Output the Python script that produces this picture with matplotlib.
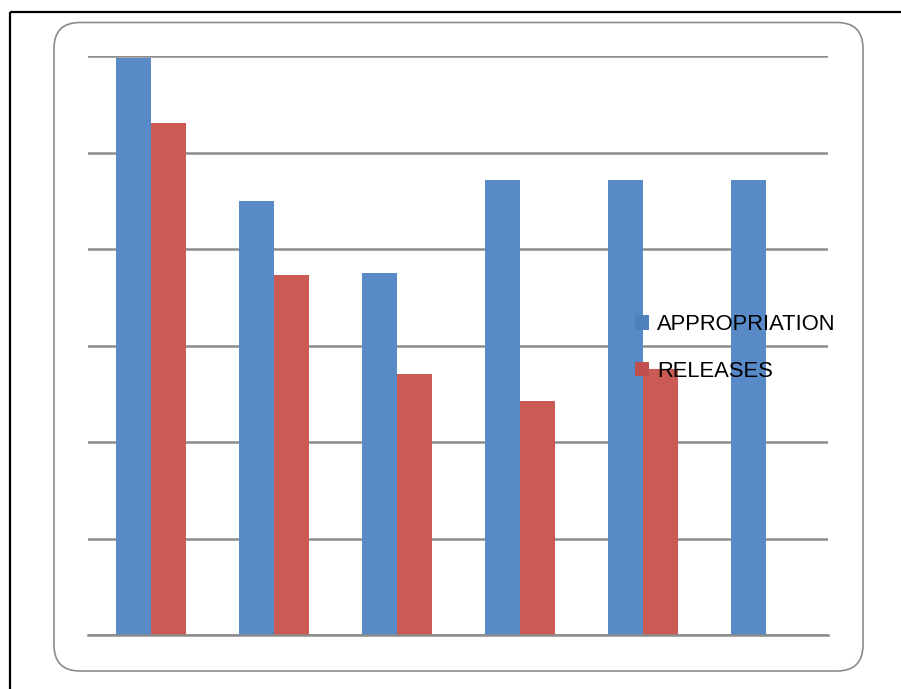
import matplotlib
matplotlib.use("Agg")
import matplotlib.pyplot as plt
import numpy as np
from matplotlib.patches import FancyBboxPatch, Patch

categories = ["1", "2", "3", "4", "5", "6"]
appropriation = [5.98, 4.50, 3.75, 4.72, 4.72, 4.72]
releases = [5.31, 3.73, 2.70, 2.42, 2.76, 0.0]
series_names = ["APPROPRIATION", "RELEASES"]

W, H = 901, 689
fig = plt.figure(figsize=(W / 100, H / 100), dpi=100)

# background decorations in pixel coordinates
bg = fig.add_axes([0, 0, 1, 1], zorder=0)
bg.set_xlim(0, W)
bg.set_ylim(H, 0)
bg.axis("off")
bg.plot([9.5, W], [11.5, 11.5], color="black", lw=1.6, solid_capstyle="butt")
bg.plot([9.5, 9.5], [11.5, H], color="black", lw=1.6, solid_capstyle="butt")
box = FancyBboxPatch((54, 22.5), 863 - 54, 671 - 22.5,
                     boxstyle="round,pad=0,rounding_size=26",
                     facecolor="white", edgecolor="#8a8a8a", lw=1.2)
bg.add_patch(box)

ax = fig.add_axes([88 / W, 1 - 635 / H, (828 - 88) / W, (635 - 56) / H], zorder=1)
ax.patch.set_alpha(0)
x = np.arange(len(categories))
bw = 0.284
ax.bar(x - bw / 2, appropriation, width=bw, color="#598AC8", zorder=3)
ax.bar(x + bw / 2, releases, width=bw, color="#CB5A55", zorder=3)
ax.set_xlim(-0.512, 5.504)
ax.set_ylim(0, 6)
ax.set_yticks(range(0, 7))
ax.yaxis.grid(True, color="#8c8c8c", lw=1.8, zorder=0)
ax.set_axisbelow(True)
ax.tick_params(left=False, bottom=False, labelleft=False, labelbottom=False)
for s in ax.spines.values():
    s.set_visible(False)
ax.axhline(0, color="#8c8c8c", lw=1.8, zorder=4, clip_on=False)

handles = [Patch(facecolor="#4F81BD", edgecolor="none"),
           Patch(facecolor="#C0504D", edgecolor="none")]
leg = fig.legend(handles, series_names, loc="upper left",
                 bbox_to_anchor=(635 / W, 1 - 314 / H),
                 frameon=False, borderpad=0, borderaxespad=0,
                 handlelength=0.66, handleheight=0.66, handletextpad=0.36,
                 labelspacing=1.17,
                 prop={"family": "Liberation Sans", "size": 15.8})
leg.set_zorder(5)

fig.savefig("out.png", dpi=100)
